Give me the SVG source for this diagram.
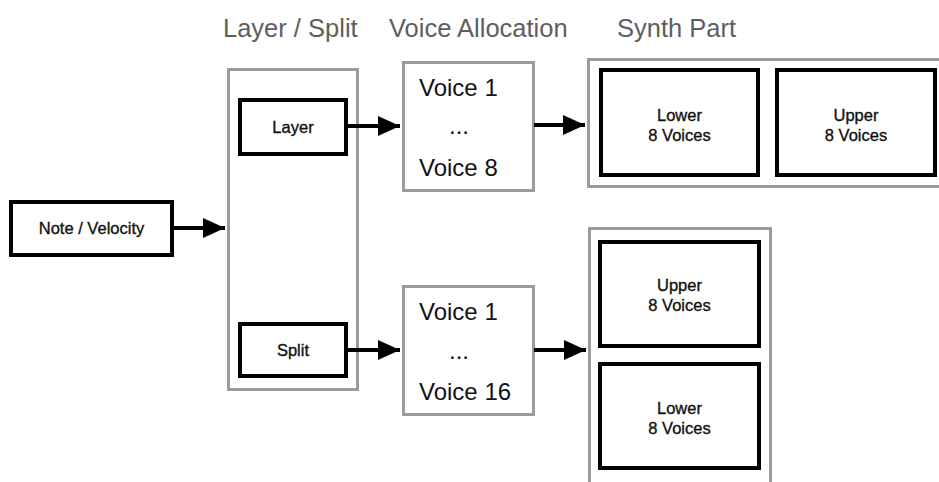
<svg xmlns="http://www.w3.org/2000/svg" width="939" height="482" viewBox="0 0 939 482">
<defs>
<style>
.hdr{font-family:"Liberation Sans",Arial,sans-serif;font-size:25.5px;fill:#5e5e5e}
.gbox{fill:#fff;stroke:#9a9a9a;stroke-width:3}
.bbox{fill:#fff;stroke:#000;stroke-width:4}
.lbl{font-family:"Liberation Sans",Arial,sans-serif;font-size:16.5px;fill:#111;stroke:#111;stroke-width:0.35;text-anchor:middle}
.vtx{font-family:"Liberation Sans",Arial,sans-serif;font-size:24px;fill:#111}
.conn{stroke:#000;stroke-width:4;fill:none}
</style>
<marker id="ah" markerUnits="userSpaceOnUse" markerWidth="22" markerHeight="20" refX="22" refY="10" orient="auto">
<path d="M0,0 L22,10 L0,20 Z" fill="#000"/>
</marker>
</defs>
<rect width="939" height="482" fill="#fff"/>
<g id="headers">
<text class="hdr" x="223" y="37">Layer / Split</text>
<text class="hdr" x="389" y="37">Voice Allocation</text>
<text class="hdr" x="617" y="37">Synth Part</text>
</g>
<g id="note-velocity">
<rect class="bbox" x="11" y="202" width="161" height="53"/>
<text class="lbl" x="91.5" y="234">Note / Velocity</text>
</g>
<g id="layer-split">
<rect class="gbox" x="228.5" y="69.5" width="129" height="320"/>
</g>
<g id="layer">
<rect class="bbox" x="240" y="100" width="106" height="54"/>
<text class="lbl" x="293" y="133">Layer</text>
</g>
<g id="split">
<rect class="bbox" x="240" y="324" width="106" height="52"/>
<text class="lbl" x="293" y="356">Split</text>
</g>
<g id="voice-alloc-top">
<rect class="gbox" x="403.5" y="62.5" width="130" height="128"/>
<text class="vtx" x="419" y="96">Voice 1</text>
<text class="vtx" x="449" y="134">...</text>
<text class="vtx" x="419" y="176">Voice 8</text>
</g>
<g id="voice-alloc-bottom">
<rect class="gbox" x="403.5" y="286.5" width="130" height="128"/>
<text class="vtx" x="419" y="320">Voice 1</text>
<text class="vtx" x="449" y="359">...</text>
<text class="vtx" x="419" y="400">Voice 16</text>
</g>
<g id="synth-top">
<rect class="gbox" x="588.5" y="59.5" width="370" height="127"/>
</g>
<g id="synth-top-lower">
<rect class="bbox" x="601" y="70" width="157" height="105"/>
<text class="lbl" x="679.5" y="121">Lower</text>
<text class="lbl" x="679.5" y="141">8 Voices</text>
</g>
<g id="synth-top-upper">
<rect class="bbox" x="777" y="70" width="158" height="105"/>
<text class="lbl" x="856" y="121">Upper</text>
<text class="lbl" x="856" y="141">8 Voices</text>
</g>
<g id="synth-bottom">
<rect class="gbox" x="589.5" y="228.5" width="181" height="270"/>
</g>
<g id="synth-bottom-upper">
<rect class="bbox" x="600" y="242" width="159" height="104"/>
<text class="lbl" x="679.5" y="291">Upper</text>
<text class="lbl" x="679.5" y="311">8 Voices</text>
</g>
<g id="synth-bottom-lower">
<rect class="bbox" x="600" y="364" width="159" height="104"/>
<text class="lbl" x="679.5" y="414">Lower</text>
<text class="lbl" x="679.5" y="434">8 Voices</text>
</g>
<g id="connectors">
<line class="conn" x1="172" y1="228" x2="225" y2="228" marker-end="url(#ah)"/>
<line class="conn" x1="346" y1="126" x2="400" y2="126" marker-end="url(#ah)"/>
<line class="conn" x1="346" y1="350" x2="400" y2="350" marker-end="url(#ah)"/>
<line class="conn" x1="534" y1="125" x2="585" y2="125" marker-end="url(#ah)"/>
<line class="conn" x1="534" y1="350" x2="586" y2="350" marker-end="url(#ah)"/>
</g>
</svg>
